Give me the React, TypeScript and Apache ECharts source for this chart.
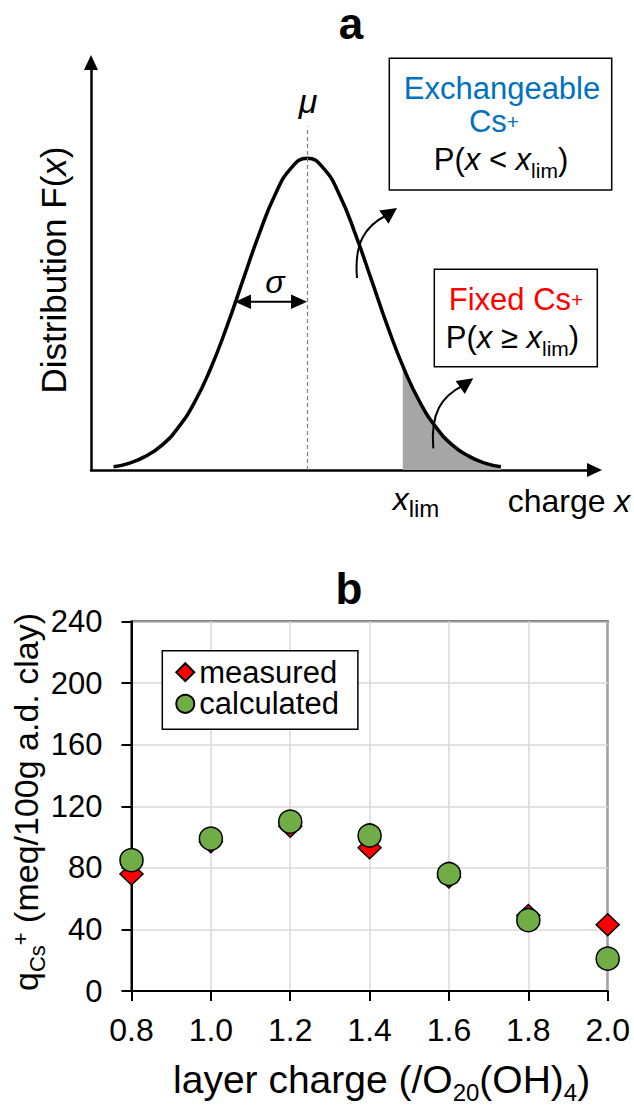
import React, { useEffect, useRef } from "react";
import * as echarts from "echarts";

// ---------- Panel a: schematic charge distribution ----------
const curveX = [0.35, 0.6, 0.85, 1.1, 1.35, 1.6, 1.85, 2.1, 2.35, 2.6, 2.85, 3.1, 3.35, 3.6, 3.85, 4.1, 4.35, 4.6, 4.85, 5.1, 5.35, 5.6, 5.85, 6.1, 6.35];
const curveY = [0.8, 1.7, 3.4, 6.1, 10.4, 16.5, 24.8, 35.0, 46.4, 57.7, 67.5, 74.1, 76.5, 74.1, 67.5, 57.7, 46.4, 35.0, 24.8, 16.5, 10.4, 6.1, 3.4, 1.7, 0.8];
const tailX = [4.83, 4.85, 5.1, 5.35, 5.6, 5.85, 6.1, 6.35];
const tailY = [25.6, 24.8, 16.5, 10.4, 6.1, 3.4, 1.7, 0.8];
const MU = 3.35;
const MU_LINE_TOP = 84.3;
const X_LIM = 4.83;
const XLIM_LINE = [-1.5, 25.6];

// ---------- Panel b: Cs+ uptake vs layer charge ----------
const layerCharge = ["0.8", "1.0", "1.2", "1.4", "1.6", "1.8", "2.0"];
const measured = [76, 97, 107, 93, 74, 49, 43];
const calculated = [85, 99, 110, 101, 76, 46, 21];
const Q_MIN = 0;
const Q_MAX = 240;
const Q_STEP = 40;

const FONT = "'Liberation Sans', Arial, Helvetica, sans-serif";
const BLUE = "#0070c0";
const RED = "#ff0000";
const GREEN = "#70ad47";

const tok = (size: number, extra: Record<string, any> = {}) => ({
  fontSize: size,
  fontFamily: FONT,
  fill: "#000",
  lineHeight: size,
  verticalAlign: "middle",
  ...extra,
});

function curvedArrow(sx: number, sy: number) {
  return [
    {
      type: "bezierCurve",
      silent: true,
      z: 50,
      shape: { x1: sx, y1: sy, cpx1: sx - 3, cpy1: sy - 35, cpx2: sx + 8, cpy2: sy - 52, x2: sx + 30, y2: sy - 63 },
      style: { stroke: "#000", lineWidth: 2, fill: "none" },
    },
    {
      type: "polygon",
      silent: true,
      z: 50,
      shape: { points: [[sx + 40, sy - 70], [sx + 31.5, sy - 54.2], [sx + 22.3, sy - 67.4]] },
      style: { fill: "#000" },
    },
  ];
}

function buildOption() {
  const thickAxis = { color: "#000", width: 2.5 };
  return {
    animation: false,
    backgroundColor: "#fff",
    textStyle: { fontFamily: FONT },
    grid: [
      { left: 91, top: 62.5, width: 503.5, height: 407.5, show: false, outerBoundsMode: "none" },
      {
        left: 131.5, top: 621.5, width: 476.2, height: 369.5, show: true,
        borderColor: "#000", borderWidth: 2, backgroundColor: "transparent", outerBoundsMode: "none",
      },
    ],
    xAxis: [
      {
        gridIndex: 0, type: "value", min: 0, max: 7.8,
        axisLine: { show: true, symbol: ["none", "triangle"], symbolSize: [14, 15], lineStyle: thickAxis },
        axisTick: { show: false }, axisLabel: { show: false }, splitLine: { show: false },
      },
      {
        gridIndex: 1, type: "category", data: layerCharge, boundaryGap: false,
        axisLine: { show: true, lineStyle: { color: "#000", width: 2 } },
        axisTick: { show: true, length: 10, lineStyle: { color: "#000", width: 2 } },
        axisLabel: { fontSize: 32, color: "#000", margin: 23, fontFamily: FONT },
        splitLine: { show: true, lineStyle: { color: "#d9d9d9", width: 1.5 } },
      },
    ],
    yAxis: [
      {
        gridIndex: 0, type: "value", min: 0, max: 100,
        axisLine: { show: true, symbol: ["none", "triangle"], symbolSize: [14, 15], lineStyle: thickAxis },
        axisTick: { show: false }, axisLabel: { show: false }, splitLine: { show: false },
      },
      {
        gridIndex: 1, type: "value", min: Q_MIN, max: Q_MAX, interval: Q_STEP,
        axisLine: { show: true, lineStyle: { color: "#000", width: 2 } },
        axisTick: { show: true, length: 10, lineStyle: { color: "#000", width: 2 } },
        axisLabel: { fontSize: 31, color: "#000", margin: 29, fontFamily: FONT },
        splitLine: { show: true, lineStyle: { color: "#d9d9d9", width: 1.5 } },
      },
    ],
    legend: {
      data: ["measured", "calculated"],
      orient: "vertical",
      left: 162.3,
      top: 650.7,
      padding: [6, 19, 10, 13],
      itemGap: 0.6,
      itemWidth: 18,
      itemHeight: 18,
      selectedMode: false,
      borderColor: "#000",
      borderWidth: 1.5,
      borderRadius: 0,
      backgroundColor: "#fff",
      textStyle: { fontSize: 31, color: "#000", fontFamily: FONT, lineHeight: 30 },
    },
    series: [
      {
        type: "line", xAxisIndex: 0, yAxisIndex: 0, silent: true, z: 1,
        data: tailX.map((x, i) => [x, tailY[i]]),
        smooth: true, symbol: "none",
        lineStyle: { width: 0 },
        areaStyle: { color: "#a6a6a6", opacity: 1 },
      },
      {
        type: "line", xAxisIndex: 0, yAxisIndex: 0, silent: true, z: 3, clip: false,
        data: curveX.map((x, i) => [x, curveY[i]]),
        smooth: true, symbol: "none",
        lineStyle: { color: "#000", width: 3.5 },
        markLine: {
          silent: true,
          symbol: ["none", "none"],
          label: { show: false },
          lineStyle: { color: "#808080", type: [4, 3], width: 1.2 },
          data: [
            [{ coord: [MU, 0] }, { coord: [MU, MU_LINE_TOP] }],
            [{ coord: [X_LIM, XLIM_LINE[0]] }, { coord: [X_LIM, XLIM_LINE[1]] }],
          ],
        },
      },
      {
        name: "measured", type: "scatter", xAxisIndex: 1, yAxisIndex: 1, z: 4,
        data: measured, symbol: "diamond", symbolSize: [23, 22],
        itemStyle: { color: RED, borderColor: "#000", borderWidth: 1.5, opacity: 1 },
      },
      {
        name: "calculated", type: "scatter", xAxisIndex: 1, yAxisIndex: 1, z: 5,
        data: calculated, symbol: "circle", symbolSize: 23,
        itemStyle: { color: GREEN, borderColor: "#000", borderWidth: 1.5, opacity: 1 },
      },
    ],
    graphic: [
      // panel letters
      { type: "text", silent: true, x: 351, y: 23.5, style: { text: "a", align: "center", verticalAlign: "middle", fontSize: 44, fontWeight: "bold", fontFamily: FONT, fill: "#000" } },
      { type: "text", silent: true, x: 349, y: 588.5, style: { text: "b", align: "center", verticalAlign: "middle", fontSize: 44, fontWeight: "bold", fontFamily: FONT, fill: "#000" } },
      // panel a y-axis title
      {
        type: "text", silent: true, x: 53, y: 270, rotation: Math.PI / 2,
        style: {
          text: "{n|Distribution F(}{i|x}{n|)}", align: "center", verticalAlign: "middle",
          rich: { n: tok(35), i: tok(35, { fontStyle: "italic" }) },
        },
      },
      // mu, sigma
      { type: "text", silent: true, x: 308, y: 101, style: { text: "μ", align: "center", verticalAlign: "middle", fontSize: 34, fontStyle: "italic", fontFamily: FONT, fill: "#000" } },
      { type: "text", silent: true, x: 275, y: 282, style: { text: "σ", align: "center", verticalAlign: "middle", fontSize: 32, fontStyle: "italic", fontFamily: FONT, fill: "#000" } },
      { type: "line", silent: true, shape: { x1: 249, y1: 301.7, x2: 293, y2: 301.7 }, style: { stroke: "#000", lineWidth: 2 } },
      { type: "polygon", silent: true, shape: { points: [[235, 301.7], [251, 294.5], [251, 309]] }, style: { fill: "#000" } },
      { type: "polygon", silent: true, shape: { points: [[307, 301.7], [291, 294.5], [291, 309]] }, style: { fill: "#000" } },
      // box 1
      { type: "rect", silent: true, z: 40, shape: { x: 389.3, y: 58.3, width: 222.4, height: 131.7 }, style: { fill: "#fff", stroke: "#000", lineWidth: 1.5 } },
      { type: "text", silent: true, z: 41, x: 502, y: 88.5, style: { text: "Exchangeable", align: "center", verticalAlign: "middle", fontSize: 31, fontFamily: FONT, fill: BLUE } },
      {
        type: "text", silent: true, z: 41, x: 494, y: 121,
        style: { text: "{b|Cs}{s|+}", align: "center", verticalAlign: "middle", rich: { b: tok(31, { fill: BLUE }), s: tok(21, { fill: BLUE }) } },
      },
      {
        type: "text", silent: true, z: 41, x: 501, y: 159.2,
        style: {
          text: "{n|P(}{i|x}{n| < }{i|x}{l|lim}{n|)}", align: "center", verticalAlign: "middle",
          rich: { n: tok(31, { lineHeight: 43.4 }), i: tok(31, { fontStyle: "italic", lineHeight: 43.4 }), l: tok(21, { verticalAlign: "bottom" }) },
        },
      },
      // box 2
      { type: "rect", silent: true, z: 40, shape: { x: 434.3, y: 269.3, width: 163, height: 97.4 }, style: { fill: "#fff", stroke: "#000", lineWidth: 1.5 } },
      {
        type: "text", silent: true, z: 41, x: 516, y: 299.2,
        style: { text: "{b|Fixed Cs}{s|+}", align: "center", verticalAlign: "middle", rich: { b: tok(31, { fill: RED }), s: tok(21, { fill: RED }) } },
      },
      {
        type: "text", silent: true, z: 41, x: 512.5, y: 337,
        style: {
          text: "{n|P(}{i|x}{n| ≥ }{i|x}{l|lim}{n|)}", align: "center", verticalAlign: "middle",
          rich: { n: tok(31, { lineHeight: 43.4 }), i: tok(31, { fontStyle: "italic", lineHeight: 43.4 }), l: tok(21, { verticalAlign: "bottom" }) },
        },
      },
      // curved arrows
      ...curvedArrow(357, 278),
      ...curvedArrow(433.3, 448.3),
      // x-axis annotations panel a
      {
        type: "text", silent: true, x: 416, y: 499,
        style: {
          text: "{i|x}{l|lim}", align: "center", verticalAlign: "middle",
          rich: { i: tok(32, { fontStyle: "italic", lineHeight: 43.6 }), l: tok(24, { verticalAlign: "bottom" }) },
        },
      },
      {
        type: "text", silent: true, x: 569, y: 500.6,
        style: {
          text: "{n|charge }{i|x}", align: "center", verticalAlign: "middle",
          rich: { n: tok(32), i: tok(32, { fontStyle: "italic" }) },
        },
      },
      // panel b axis titles
      {
        type: "text", silent: true, x: 26, y: 802, rotation: Math.PI / 2,
        style: {
          text: "{n|q}{s|Cs}{p|+}{n| (meq/100g a.d. clay)}", align: "center", verticalAlign: "middle",
          rich: {
            n: tok(34, { lineHeight: 44.4 }),
            s: tok(22, { verticalAlign: "bottom" }),
            p: tok(22, { verticalAlign: "top", padding: [6, 0, 0, 0] }),
          },
        },
      },
      {
        type: "text", silent: true, x: 381.6, y: 1079,
        style: {
          text: "{n|layer charge (/O}{s|20}{n|(OH)}{s|4}{n|)}", align: "center", verticalAlign: "middle",
          rich: { n: tok(39, { lineHeight: 50 }), s: tok(24, { verticalAlign: "bottom" }) },
        },
      },
    ],
  };
}

export default function App() {
  const ref = useRef<HTMLDivElement>(null);
  useEffect(() => {
    document.body.style.margin = "0";
    const chart = echarts.init(ref.current as HTMLDivElement, null, { renderer: "svg" });
    chart.setOption(buildOption() as any);
    return () => {
      chart.dispose();
    };
  }, []);
  return <div ref={ref} style={{ width: 634, height: 1106 }} />;
}
